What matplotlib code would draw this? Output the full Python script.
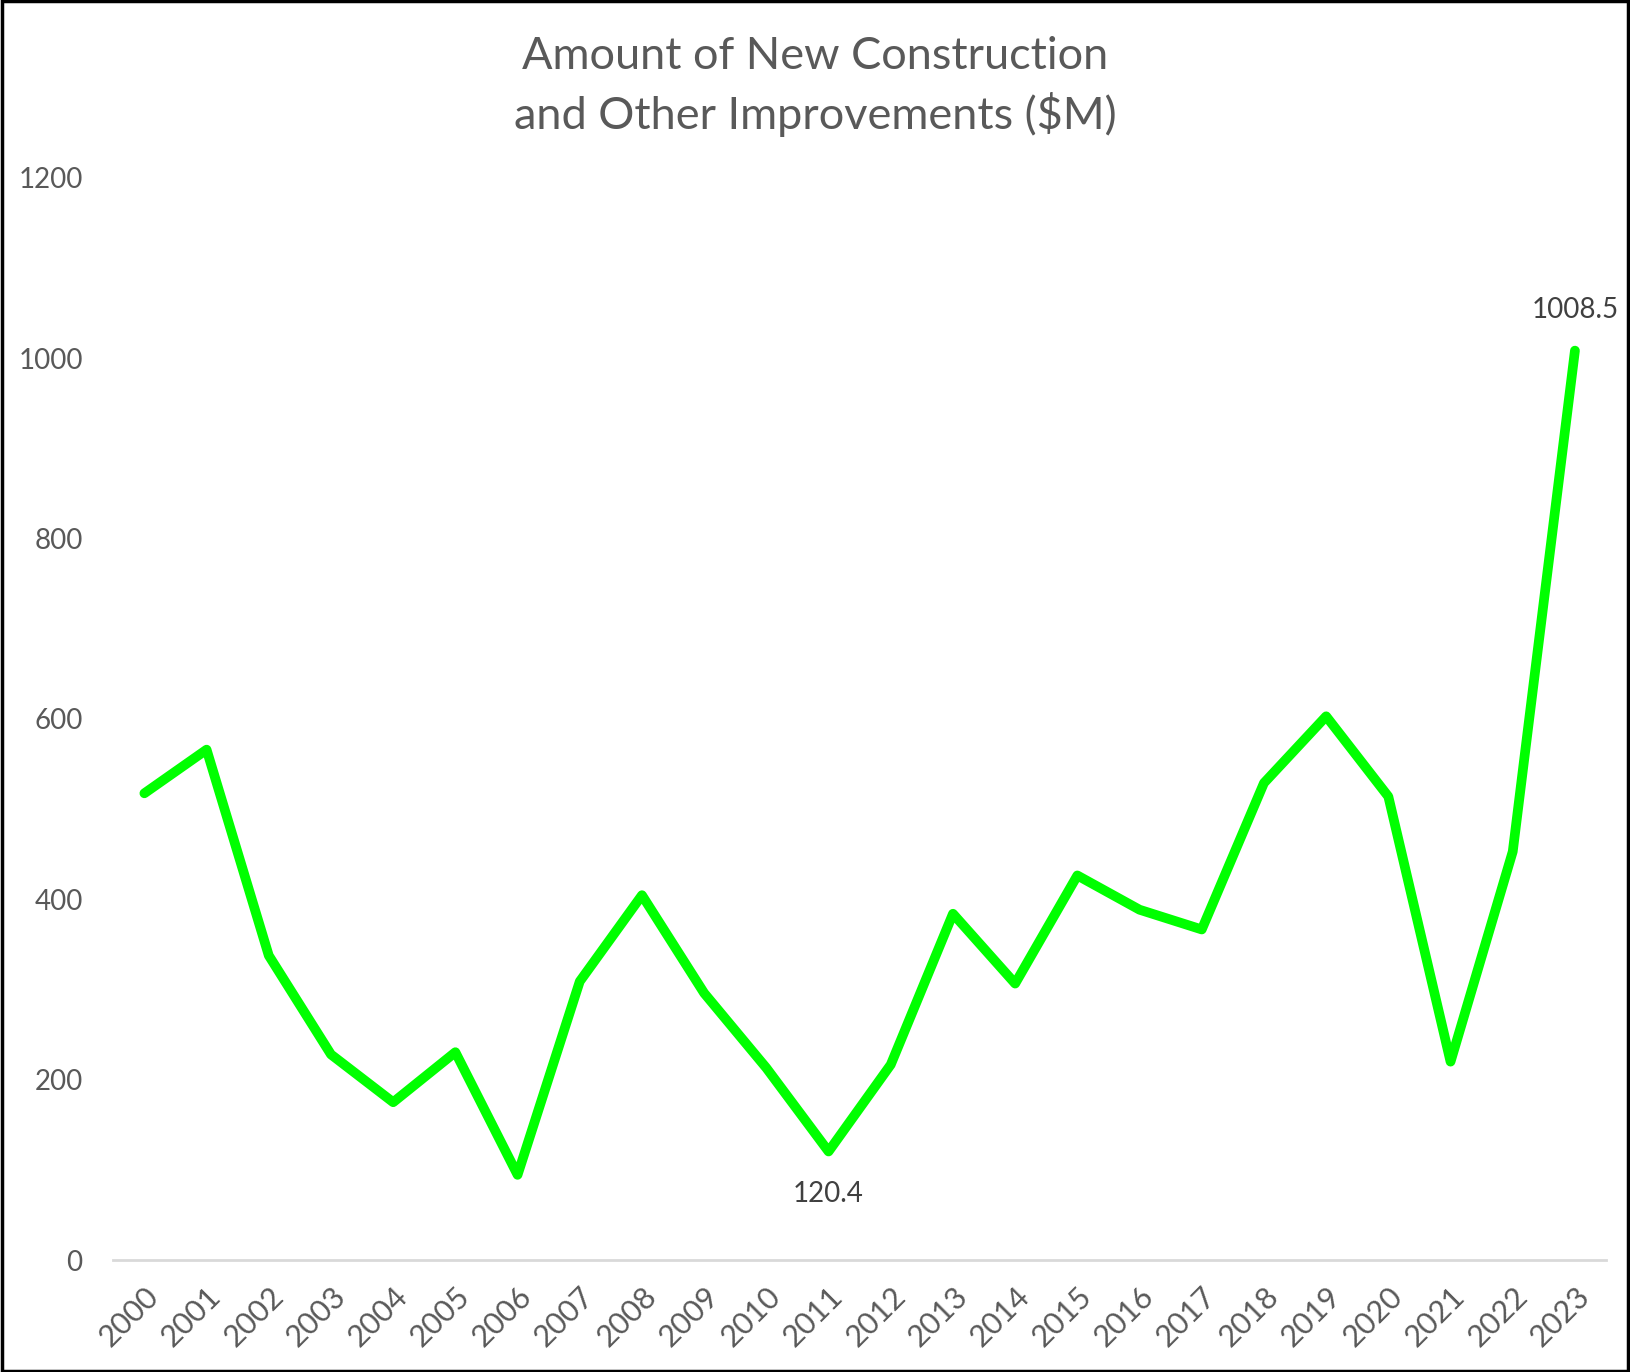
import matplotlib.pyplot as plt
from matplotlib.patches import Rectangle

years = [str(y) for y in range(2000, 2024)]
values = [517.6, 566.0, 337.7, 228.0, 175.0, 230.5, 94.5, 309.0, 404.6, 296.0,
          213.0, 120.4, 216.7, 384.0, 306.6, 426.5, 388.5, 366.6, 529.0, 603.0,
          514.0, 220.0, 453.0, 1008.5]
yticks = [0, 200, 400, 600, 800, 1000, 1200]
title = "Amount of New Construction\nand Other Improvements ($M)"

plt.rcParams['font.family'] = ['Lato', 'DejaVu Sans']

fig = plt.figure(figsize=(16.3, 13.72), dpi=100)
ax = fig.add_axes([0.0695, 0.0816, 0.9158, 0.7887])

x = list(range(len(years)))
ax.plot(x, values, color='#00FF00', linewidth=7, solid_capstyle='round',
        solid_joinstyle='round', zorder=3)

ax.set_xlim(-0.5, len(years) - 0.5)
ax.set_ylim(0, 1200)
ax.set_yticks(yticks)
ax.set_yticklabels([str(t) for t in yticks])
ax.set_xticks(x)
ax.set_xticklabels(years, rotation=45, ha='right', va='top', rotation_mode='anchor')

for side in ['top', 'right', 'left']:
    ax.spines[side].set_visible(False)
ax.spines['bottom'].set_color('#D9D9D9')
ax.spines['bottom'].set_linewidth(2)
ax.tick_params(axis='both', length=0, labelcolor='#595959')
ax.tick_params(axis='y', pad=22, labelsize=20)
ax.tick_params(axis='x', pad=16, labelsize=22)

# data labels on min and max
i_min = values.index(min(values[8:]))
ax.annotate(f"{values[i_min]}", (i_min, values[i_min]), xytext=(0, -21),
            textcoords='offset points', ha='center', va='top', fontsize=20, color='#404040')
i_max = values.index(max(values))
ax.annotate(f"{values[i_max]}", (i_max, values[i_max]), xytext=(0, 20),
            textcoords='offset points', ha='center', va='bottom', fontsize=20, color='#404040')

fig.text(0.5, 0.974, title, ha='center', va='top', fontsize=32.5, color='#595959',
         linespacing=1.42)

fig.patches.append(Rectangle((0.001, 0.001), 0.998, 0.998, transform=fig.transFigure,
                             fill=False, edgecolor='black', linewidth=2.5))

fig.savefig('out.png', dpi=100)
